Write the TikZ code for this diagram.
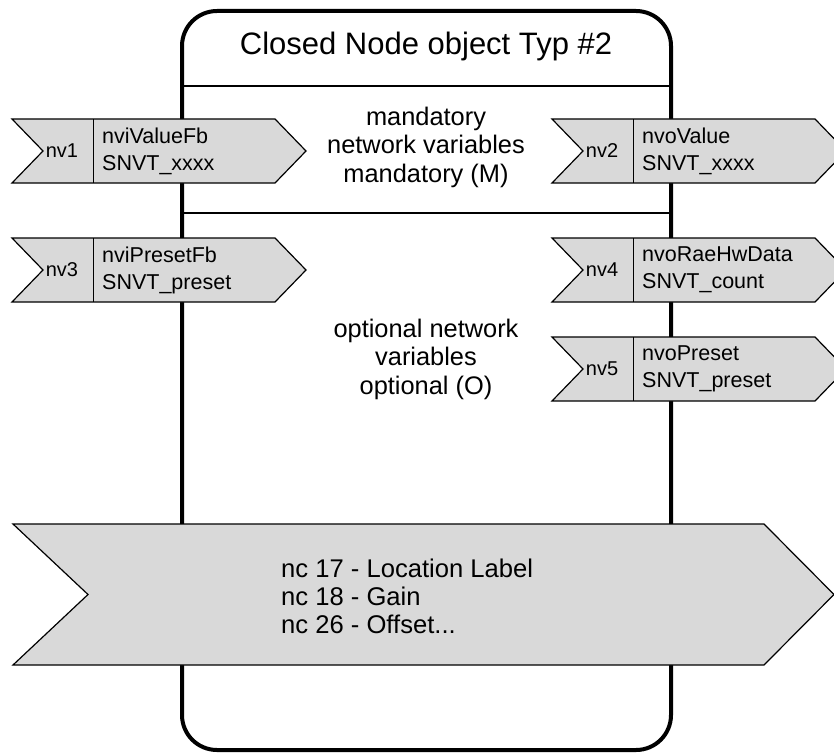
\documentclass[tikz,border=0pt]{standalone}
\usepackage{fontspec}
\setmainfont{Liberation Sans}
\usetikzlibrary{positioning}
\definecolor{sigfill}{HTML}{D9D9D9}

\begin{document}
\begin{tikzpicture}[x=1pt, y=-1pt,
		frame/.style   = {line width=4pt, rounded corners=35pt},
		sepline/.style = {line width=1.6pt},
		sig/.style     = {draw, fill=sigfill, line width=1.2pt, line join=miter},
		title/.style   = {font=\fontsize{31}{36}\selectfont, inner sep=0pt},
		midtext/.style = {font=\fontsize{25.4}{28.5}\selectfont, align=center, inner sep=0pt},
		nvlabel/.style = {font=\fontsize{20}{24}\selectfont, inner sep=0pt},
		nvtext/.style  = {font=\fontsize{21.5}{27}\selectfont, align=left, anchor=west, inner sep=0pt},
		nctext/.style  = {font=\fontsize{25.6}{28}\selectfont, align=left, anchor=west, inner sep=0pt}]
		
		\useasboundingbox (0,0) rectangle (834,754);
		
		% the closed node object
		\draw[frame] (182,11) rectangle (671,750);
		\node[title] (head) at (426,46) {Closed Node object Typ \#2};
		\draw[sepline] (182,86) -- (671,86);
		\draw[sepline] (182,213) -- (671,213);
		
		\node[midtext] (mand) at (426,147) {mandatory\\network variables\\mandatory (M)};
		\node[midtext] (opt) at (426,359) {optional network\\variables\\optional (O)};
		
		% network variables, inputs left and outputs right
		\foreach \x/\y/\n/\a/\b in {12/151/nv1/nviValueFb/SNVT\_xxxx,
			12/270/nv3/nviPresetFb/SNVT\_preset,
			552/151/nv2/nvoValue/SNVT\_xxxx,
			552/270/nv4/nvoRaeHwData/SNVT\_count,
			552/369/nv5/nvoPreset/SNVT\_preset}{
			\draw[sig] (\x,\y-32) -- (\x+263,\y-32) -- (\x+294,\y) -- (\x+263,\y+32)
				-- (\x,\y+32) -- (\x+31,\y) -- cycle;
			\draw[line width=0.8pt] (\x+81,\y-32) -- (\x+81,\y+32);
			\node[nvlabel] (\n) at (\x+50,\y) {\n};
			\node[nvtext] (\n-text) at (\x+90,\y) {\a\\\b};
		}
		
		% network configuration properties
		\draw[sig] (13,524) -- (764,524) -- (834,594.5) -- (764,665)
			-- (13,665) -- (88,594.5) -- cycle;
		\node[nctext] (nc) at (281,596) {nc 17 - Location Label\\nc 18 - Gain\\nc 26 - Offset...};
		
	\end{tikzpicture}
\end{document}
